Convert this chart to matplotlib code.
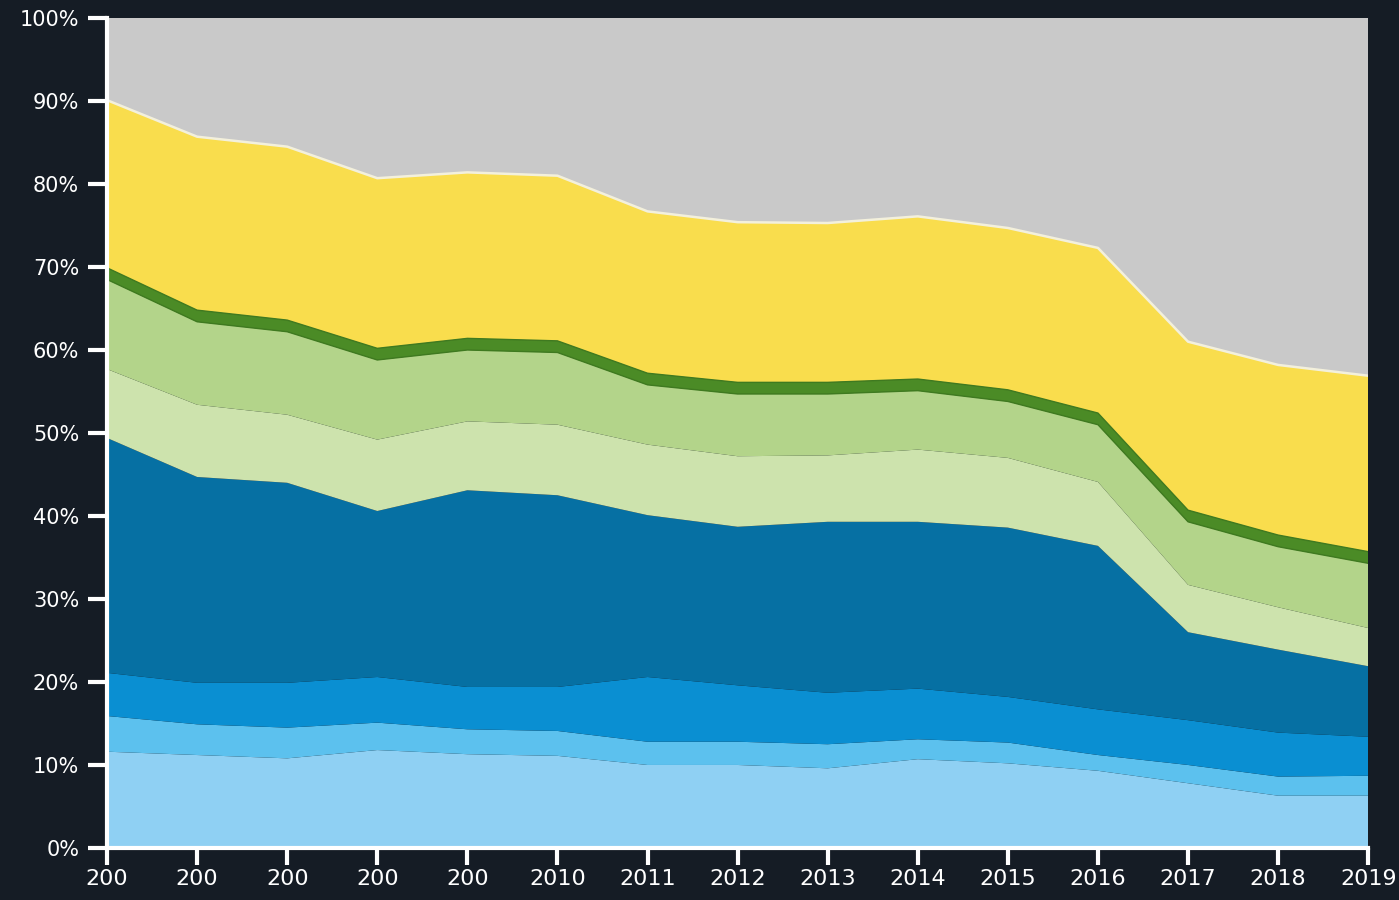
import numpy as np
import matplotlib
matplotlib.use('Agg')
import matplotlib.pyplot as plt

# x positions and tick labels (first five are cut off in the source)
years = list(range(2005, 2020))
year_labels = ['200', '200', '200', '200', '200'] + [str(y) for y in range(2010, 2020)]

# layer shares in percent, bottom to top
light_blue = [11.6, 11.2, 10.8, 11.8, 11.3, 11.1, 10.0, 10.0, 9.6, 10.7, 10.2, 9.3, 7.8, 6.3, 6.3]
sky_blue = [4.3, 3.7, 3.7, 3.3, 3.0, 3.0, 2.8, 2.8, 2.9, 2.4, 2.5, 1.9, 2.2, 2.3, 2.4]
mid_blue = [5.2, 5.0, 5.4, 5.5, 5.1, 5.3, 7.8, 6.8, 6.2, 6.1, 5.5, 5.5, 5.4, 5.3, 4.7]
dark_blue = [28.3, 24.8, 24.1, 20.0, 23.7, 23.1, 19.5, 19.1, 20.6, 20.1, 20.4, 19.7, 10.6, 10.0, 8.5]
pale_green = [8.3, 8.7, 8.2, 8.6, 8.3, 8.5, 8.5, 8.5, 8.0, 8.7, 8.4, 7.7, 5.7, 5.1, 4.6]
light_green = [10.8, 10.0, 10.0, 9.6, 8.6, 8.7, 7.2, 7.5, 7.4, 7.1, 6.8, 6.9, 7.6, 7.3, 7.8]
dark_green = [1.4] * 15
yellow = [20.2, 20.9, 20.9, 20.5, 20.0, 19.9, 19.5, 19.3, 19.2, 19.6, 19.5, 19.9, 20.3, 20.5, 21.2]
grey = [9.9, 14.3, 15.5, 19.3, 18.6, 19.0, 23.3, 24.6, 24.7, 23.9, 25.3, 27.7, 39.0, 41.8, 43.1]

colors = ['#8fd0f3', '#5cc1ee', '#0a8fd2', '#0670a3', '#cde3ad',
          '#b3d48a', '#4b8b26', '#f9dd4d', '#c9c9c9']

bg = '#151c25'

fig = plt.figure(figsize=(13.99, 9), dpi=100, facecolor=bg)
ax = fig.add_axes([0.0765, 0.0578, 0.9015, 0.9222])
ax.set_facecolor(bg)

layers = [light_blue, sky_blue, mid_blue, dark_blue, pale_green,
          light_green, dark_green, yellow, grey]
ax.stackplot(years, layers, colors=colors, linewidth=0)

# thin light line between yellow and grey, darker rim on the green band
tops = np.cumsum(np.array(layers), axis=0)
ax.plot(years, tops[7], color='#f3f0dc', lw=1.8)
ax.plot(years, tops[6], color='#3f7a20', lw=1.0)
ax.plot(years, tops[5], color='#3f7a20', lw=1.0)

ax.set_xlim(2005, 2019)
ax.set_ylim(0, 100)

ax.set_yticks(range(0, 101, 10))
ax.set_yticklabels([f'{v}%' for v in range(0, 101, 10)])
ax.set_xticks(years)
ax.set_xticklabels(year_labels)

for side in ['top', 'right']:
    ax.spines[side].set_visible(False)
for side in ['left', 'bottom']:
    ax.spines[side].set_color('white')
    ax.spines[side].set_linewidth(3)
    ax.spines[side].set_zorder(5)

ax.tick_params(axis='y', colors='white', length=14, width=3, labelsize=15, pad=6)
ax.tick_params(axis='x', colors='white', length=12, width=3, labelsize=16, pad=3)
for lbl in ax.get_xticklabels() + ax.get_yticklabels():
    lbl.set_fontweight('medium')

fig.savefig('out.png', dpi=100, facecolor=bg)
